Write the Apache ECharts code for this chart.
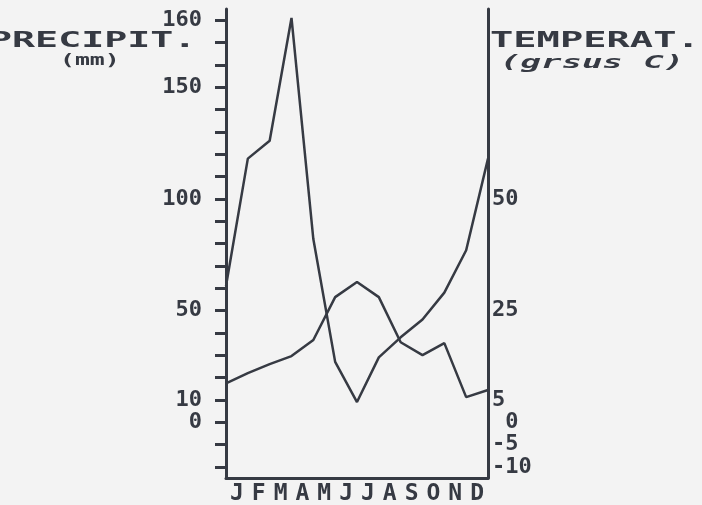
<!DOCTYPE html>
<html>
<head>
<meta charset="utf-8">
<title>Precipit. / Temperat.</title>
<script src="https://cdn.jsdelivr.net/npm/echarts@6.0.0/dist/echarts.min.js"></script>
<style>
  html, body { margin: 0; padding: 0; background: #f3f3f3; }
  #chart { width: 702px; height: 505px; }
</style>
</head>
<body>
<div id="chart"></div>
<script>
// month letters under the axis (one per cell)
const monthLetters = ['J', 'F', 'M', 'A', 'M', 'J', 'J', 'A', 'S', 'O', 'N', 'D'];
// the plotter draws 13 points: start of each month plus the closing edge
const pointCats = ['J', 'F', 'M', 'A', 'M', 'J', 'J', 'A', 'S', 'O', 'N', 'D', '|'];

// precipitation, mm (left scale)
const precipMm = [61, 118, 126, 181, 82, 27, 9, 29, 38, 46, 58, 77, 118];
// temperature, graus C (right scale)
const tempC = [8.7, 11.0, 13.0, 14.8, 18.4, 28.0, 31.4, 28.0, 17.9, 15.0, 17.7, 5.6, 7.2];

// left scale ticks / labels as printed
const leftTicks = [-20, -10, 0, 10, 20, 30, 40, 50, 60, 70, 80, 90, 100, 110, 120, 130, 140, 150, 160, 170, 180];
const leftLabelValues = [0, 10, 50, 100, 150, 180];
const leftLabelTexts = ['0', '10', '50', '100', '150', '160'];
// right scale labels as printed
const rightLabelValues = [50, 25, 5, 0, -5, -10];
const rightLabelTexts = ['50', '25', '5', ' 0', '-5', '-10'];

const ink = '#363a43';
const mono = '"DejaVu Sans Mono", "Liberation Mono", monospace';

const chart = echarts.init(document.getElementById('chart'), null, { renderer: 'canvas' });

const option = {
  backgroundColor: '#f3f3f3',
  animation: false,
  grid: {
    left: 226,
    right: 214,
    top: 9,
    bottom: 27,
    containLabel: false,
    outerBoundsMode: 'none',
  },
  graphic: [
    {
      type: 'text', x: -11, y: 41, scaleX: 1.74,
      style: { text: 'PRECIPIT.', font: 'bold 22px ' + mono, fill: ink, textVerticalAlign: 'middle' },
    },
    {
      type: 'text', x: 60, y: 61, scaleX: 1.55,
      style: { text: '(mm)', font: 'bold 16px ' + mono, fill: ink, textVerticalAlign: 'middle' },
    },
    {
      type: 'text', x: 490, y: 41, scaleX: 1.76,
      style: { text: 'TEMPERAT.', font: 'bold 22px ' + mono, fill: ink, textVerticalAlign: 'middle' },
    },
    {
      type: 'text', x: 500, y: 64, scaleX: 2.0,
      style: { text: '(grsus C)', font: 'italic bold 17px ' + mono, fill: ink, textVerticalAlign: 'middle' },
    },
  ],
  xAxis: [
    {
      // positions of the plotted points
      type: 'category',
      data: pointCats,
      boundaryGap: false,
      show: false,
    },
    {
      // month letters, one per cell
      type: 'category',
      data: monthLetters,
      boundaryGap: true,
      position: 'bottom',
      axisLine: { show: true, onZero: false, lineStyle: { color: ink, width: 3 } },
      axisTick: { show: false },
      axisLabel: {
        margin: 5,
        color: ink,
        fontFamily: mono,
        fontSize: 23,
        fontWeight: 'bold',
        interval: 0,
        hideOverlap: false,
      },
      splitLine: { show: false },
    },
  ],
  yAxis: [
    {
      type: 'value',
      position: 'left',
      min: -25,
      max: 185,
      axisLine: { show: true, onZero: false, lineStyle: { color: ink, width: 3 } },
      axisTick: {
        show: true,
        inside: false,
        length: 11,
        customValues: leftTicks,
        lineStyle: { color: ink, width: 3 },
      },
      axisLabel: {
        margin: 24,
        color: ink,
        fontFamily: mono,
        fontSize: 22,
        lineHeight: 16,
        fontWeight: 'bold',
        hideOverlap: false,
        customValues: leftLabelValues,
        formatter: (v) => leftLabelTexts[leftLabelValues.indexOf(v)],
      },
      splitLine: { show: false },
    },
    {
      type: 'value',
      position: 'right',
      min: -12.5,
      max: 92.5,
      axisLine: { show: true, onZero: false, lineStyle: { color: ink, width: 3 } },
      axisTick: { show: false },
      axisLabel: {
        margin: 4,
        color: ink,
        fontFamily: mono,
        fontSize: 22,
        lineHeight: 16,
        fontWeight: 'bold',
        hideOverlap: false,
        customValues: rightLabelValues,
        formatter: (v) => rightLabelTexts[rightLabelValues.indexOf(v)],
      },
      splitLine: { show: false },
    },
  ],
  series: [
    {
      name: 'PRECIPIT.',
      type: 'line',
      xAxisIndex: 0,
      yAxisIndex: 0,
      data: precipMm,
      symbol: 'none',
      lineStyle: { color: ink, width: 2.5 },
    },
    {
      name: 'TEMPERAT.',
      type: 'line',
      xAxisIndex: 0,
      yAxisIndex: 1,
      data: tempC,
      symbol: 'none',
      lineStyle: { color: ink, width: 2.5 },
    },
  ],
};

chart.setOption(option);
</script>
</body>
</html>
